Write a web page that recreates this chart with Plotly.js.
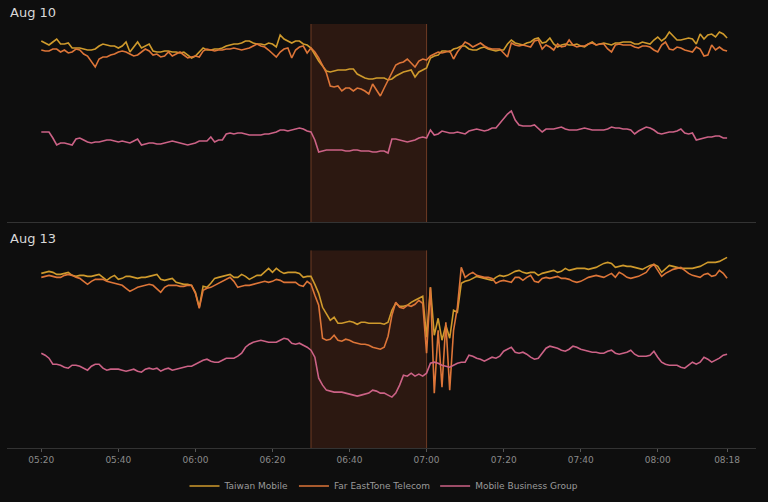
<!DOCTYPE html>
<html>
<head>
<meta charset="utf-8">
<script src="https://cdn.plot.ly/plotly-3.0.1.min.js"></script>
<style>
html,body{margin:0;padding:0;background:#0e0e0e;}
#chart{width:768px;height:502px;}
</style>
</head>
<body>
<div id="chart"></div>
<script>
// One sample per minute, 05:20 to 08:18 (relative traffic index, no y scale shown)
const startTime = '2000-01-01 05:20:00';
const seriesNames = ['Taiwan Mobile', 'Far EastTone Telecom', 'Mobile Business Group'];
const panelTitles = ['Aug 10', 'Aug 13'];
const outageWindow = ['2000-01-01 06:30:00', '2000-01-01 07:00:00'];
const tickVals = ['2000-01-01 05:20','2000-01-01 05:40','2000-01-01 06:00','2000-01-01 06:20','2000-01-01 06:40','2000-01-01 07:00','2000-01-01 07:20','2000-01-01 07:40','2000-01-01 08:00','2000-01-01 08:18'];
const tickText = ['05:20','05:40','06:00','06:20','06:40','07:00','07:20','07:40','08:00','08:18'];

const aug10Taiwan = [
181,179,177,180,183,178,178,179,174,174,
174,173,172,172,173,176,178,177,176,176,
174,176,180,170,175,180,174,176,178,171,
170,170,171,171,170,170,169,170,167,164,
166,170,174,172,172,173,173,174,176,177,
178,178,179,181,181,179,178,178,177,179,
178,175,187,183,181,179,181,181,178,177,
174,167,161,156,151,150,151,152,152,152,
153,153,148,146,144,143,143,144,144,144,
142,143,146,148,150,151,152,145,150,152,
154,164,166,167,171,171,170,173,174,176,
176,173,172,172,174,175,173,172,171,172,
172,178,182,179,178,177,179,180,183,184,
179,180,184,178,175,177,178,177,177,178,
176,175,178,180,177,178,179,178,177,179,
179,180,180,180,178,178,180,179,178,182,
185,181,184,190,186,182,182,183,184,183,
178,188,183,187,188,185,190,188,184];

const aug10FarEastTone = [
172,171,171,173,173,170,172,169,170,173,
172,168,166,160,155,163,165,165,167,168,
170,171,170,168,166,167,170,173,171,167,
168,165,166,170,166,168,170,167,164,165,
166,165,171,173,172,171,172,172,173,173,
174,173,172,173,174,176,178,176,175,172,
168,165,170,173,174,164,172,175,176,169,
174,170,164,156,149,136,135,136,131,134,
134,131,134,133,131,128,138,132,126,134,
142,149,157,159,160,163,159,155,161,163,
162,166,168,170,169,170,171,163,170,175,
180,178,175,177,179,176,174,173,173,173,
169,165,179,177,176,177,176,175,181,182,
173,177,175,172,178,175,176,182,177,175,
176,176,178,179,177,178,178,173,170,177,
178,177,177,177,175,174,176,176,175,172,
170,177,180,173,172,175,174,172,171,170,
175,173,166,167,177,172,175,172,171];

const aug10MobileBiz = [
90,90,90,84,77,79,79,78,77,83,
84,82,80,79,80,80,81,82,82,81,
80,81,80,79,81,83,77,78,79,79,
78,78,79,80,81,80,79,78,77,78,
79,81,81,81,85,80,82,82,88,89,
88,89,89,88,87,87,87,87,88,88,
89,90,92,92,91,92,93,94,93,91,
90,82,70,71,72,72,72,72,72,71,
71,72,72,71,71,71,70,70,71,71,
69,83,83,82,81,80,81,82,84,85,
84,92,87,88,91,90,89,89,90,89,
88,91,92,93,92,91,92,94,94,99,
104,108,111,102,97,96,96,96,97,93,
90,93,93,93,94,95,93,92,92,92,
93,94,93,92,92,92,92,93,95,94,
94,93,93,92,88,91,93,95,94,92,
89,88,89,90,90,91,93,89,88,89,
82,83,84,85,85,86,86,84,84];

const aug13Taiwan = [
175,176,177,176,174,174,175,176,173,172,
173,173,172,172,173,174,171,168,171,173,
169,170,172,172,171,170,171,171,172,173,
174,169,168,169,170,166,165,164,164,163,
156,141,162,161,165,170,171,172,173,174,
171,171,174,172,169,171,173,173,177,180,
176,180,177,175,176,176,176,175,171,172,
172,164,155,141,134,128,131,125,125,126,
127,126,124,126,126,125,125,125,125,124,
126,138,145,142,142,143,146,148,150,152,
111,161,113,130,108,123,110,138,136,165,
167,168,170,172,171,170,169,168,171,173,
172,173,175,177,178,176,175,176,176,173,
175,176,177,178,176,177,180,178,179,180,
180,180,179,180,181,183,185,186,185,181,
182,183,182,182,181,180,179,181,183,184,
182,176,180,183,182,181,180,180,180,180,
181,182,184,186,186,186,187,189,191];

const aug13FarEastTone = [
171,172,173,172,171,171,173,174,173,171,
170,167,164,167,169,169,169,167,166,165,
164,163,160,157,159,161,162,163,164,163,
159,156,161,163,163,163,162,162,163,163,
155,140,158,160,161,163,165,167,169,171,
167,161,162,163,163,164,165,166,167,166,
167,169,168,166,166,166,166,163,162,167,
164,153,143,110,108,109,113,108,107,109,
108,106,105,104,104,103,101,100,99,101,
112,133,146,141,140,143,142,144,148,145,
95,161,55,118,61,126,58,118,141,181,
171,174,176,173,172,171,171,170,165,167,
168,167,166,171,171,168,171,173,167,166,
170,171,170,171,172,170,170,169,167,166,
167,169,171,172,173,172,171,173,175,171,
176,174,171,170,171,172,174,176,181,184,
178,172,175,177,179,180,181,178,175,173,
172,171,174,175,172,173,178,175,170];

const aug13MobileBiz = [
95,93,90,84,84,83,81,80,83,83,
82,80,78,82,84,84,80,78,79,79,
79,78,77,78,79,77,76,79,80,79,
80,77,79,80,78,79,80,81,82,82,
84,86,88,89,87,86,86,88,90,90,
90,92,95,101,104,106,107,108,107,106,
106,106,108,110,109,105,104,105,103,101,
98,91,70,63,58,57,56,56,56,55,
54,53,52,53,54,55,58,57,55,55,
53,51,55,63,73,72,75,72,74,72,
75,85,86,85,83,82,81,83,85,86,
86,93,92,90,89,87,89,91,90,92,
97,99,101,96,95,96,94,91,89,90,
95,100,102,101,100,98,97,99,102,101,
99,98,97,96,96,95,95,97,98,95,
94,95,96,98,94,92,92,92,93,97,
91,86,84,83,83,83,81,80,83,86,
84,86,91,89,86,88,90,93,94];

const colors = ['#cf9a2c', '#dd7538', '#cc6286'];

// timestamps: one per sample, built from the start time
function timesFor(n) {
  const t0 = new Date(startTime.replace(' ', 'T') + 'Z').getTime();
  const out = [];
  for (let i = 0; i < n; i++) {
    const d = new Date(t0 + i * 60000);
    out.push(d.toISOString().slice(0, 19).replace('T', ' '));
  }
  return out;
}

const panels = [
  {series: [aug10Taiwan, aug10FarEastTone, aug10MobileBiz], xa: 'x', ya: 'y'},
  {series: [aug13Taiwan, aug13FarEastTone, aug13MobileBiz], xa: 'x2', ya: 'y2'}
];

const traces = [];
panels.forEach((p, pi) => {
  p.series.forEach((vals, si) => {
    traces.push({
      type: 'scatter', mode: 'lines',
      x: timesFor(vals.length), y: vals,
      xaxis: p.xa, yaxis: p.ya,
      name: seriesNames[si],
      legendgroup: seriesNames[si],
      showlegend: pi === 1,
      line: {color: colors[si], width: 1.6},
      hoverinfo: 'skip'
    });
  });
});

const xRange = ['2000-01-01 05:11:06', '2000-01-01 08:25:30'];
const shapes = [];
[['x','y'],['x2','y2']].forEach(([xr, yr]) => {
  shapes.push({type:'rect', xref:xr, yref:yr+' domain', x0:outageWindow[0], x1:outageWindow[1], y0:0, y1:1,
    fillcolor:'#2c1811', line:{width:0}, layer:'below'});
  outageWindow.forEach(t => shapes.push({type:'line', xref:xr, yref:yr+' domain', x0:t, x1:t, y0:0, y1:1,
    line:{color:'#6e3b24', width:1}, layer:'below'}));
});

const axisFont = {family:'DejaVu Sans, sans-serif', size:9, color:'#8a8a8a'};
const layout = {
  width: 768, height: 502,
  paper_bgcolor: '#0e0e0e', plot_bgcolor: '#0e0e0e',
  margin: {l: 7, r: 12, t: 24, b: 54, autoexpand: false},
  showlegend: true,
  legend: {orientation: 'h', x: 0.5, xanchor: 'center', xref: 'container', yref: 'container', y: 0.032, yanchor: 'middle',
    font: {family:'DejaVu Sans, sans-serif', size: 9, color: '#9a9a9a'}, bgcolor:'rgba(0,0,0,0)'},
  xaxis: {type:'date', range: xRange, domain:[0,1], anchor:'y', showgrid:false, zeroline:false,
    showline:true, linecolor:'#333333', linewidth:1, ticks:'', showticklabels:false,
    tickvals: tickVals, ticktext: tickText},
  yaxis: {domain:[0.533, 1], range:[0,198], showgrid:false, zeroline:false, showticklabels:false, showline:false, fixedrange:true},
  xaxis2: {type:'date', range: xRange, domain:[0,1], anchor:'y2', showgrid:false, zeroline:false,
    showline:true, linecolor:'#333333', linewidth:1, ticks:'outside', ticklen:3, tickcolor:'#555555',
    tickvals: tickVals, ticktext: tickText, tickfont: axisFont},
  yaxis2: {domain:[0, 0.466], range:[0,198], showgrid:false, zeroline:false, showticklabels:false, showline:false, fixedrange:true},
  shapes: shapes,
  annotations: panelTitles.map((t, i) => ({
    text: t, xref:'paper', yref:'paper', x: 0.001, y: i === 0 ? 1.028 : 0.493,
    xanchor:'left', yanchor:'middle', showarrow:false,
    font:{family:'DejaVu Sans, sans-serif', size:13, color:'#d8d8d8'}
  }))
};

Plotly.newPlot('chart', traces, layout, {staticPlot: true, displayModeBar: false});
</script>
</body>
</html>
